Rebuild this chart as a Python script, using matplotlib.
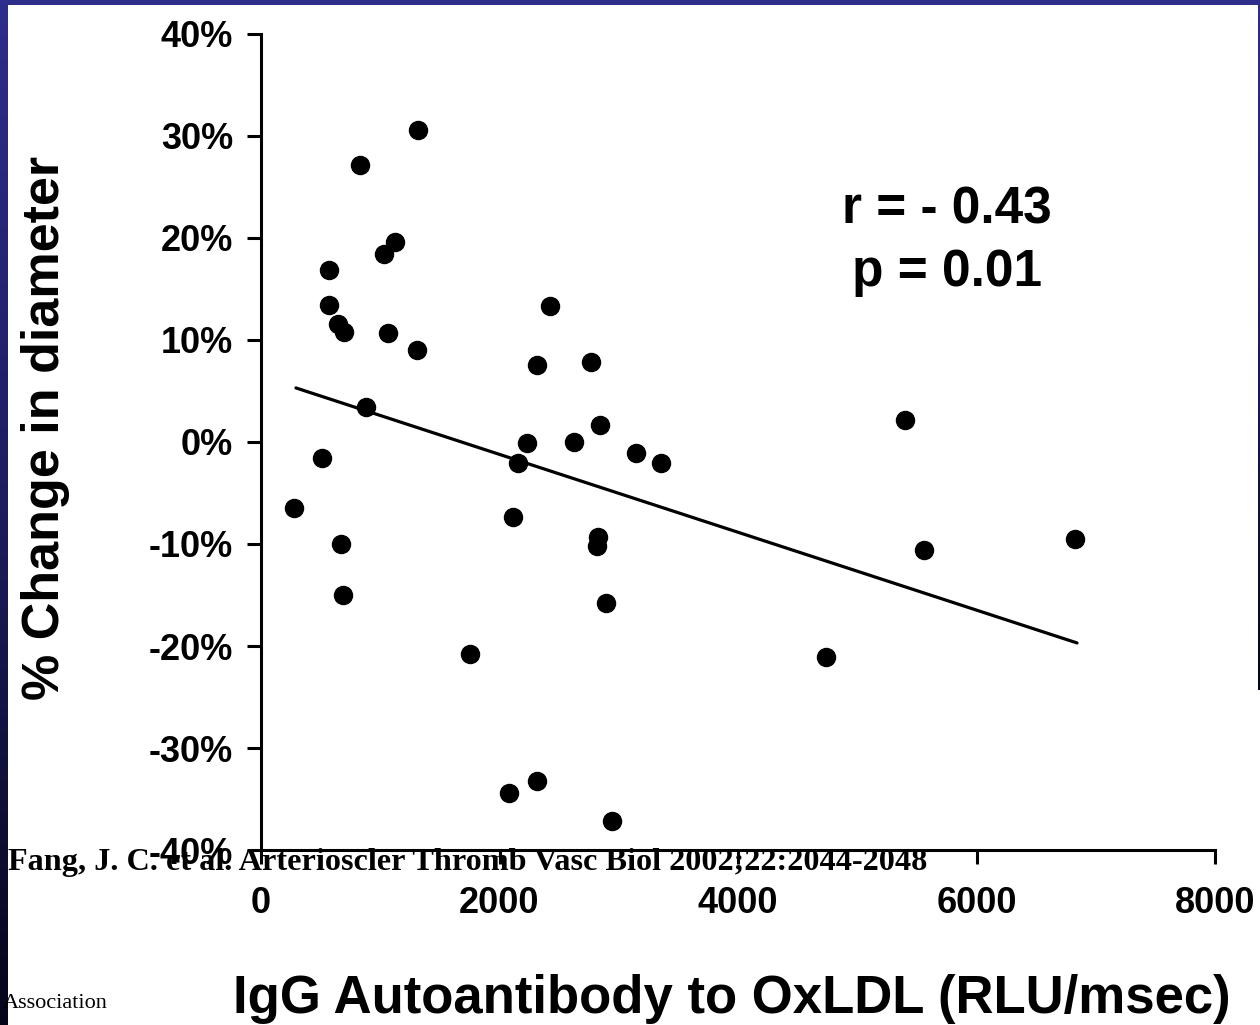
import numpy as np
import matplotlib
matplotlib.use("Agg")
import matplotlib.pyplot as plt
from matplotlib.colors import LinearSegmentedColormap

# IgG autoantibody titre (RLU/msec) vs % change in vessel diameter
antibody = [277, 512, 570, 570, 646, 696, 671, 688, 830, 880,
            1031, 1124, 1065, 1317, 1308, 1753, 2080, 2113, 2155, 2231,
            2315, 2315, 2423, 2625, 2767, 2826, 2818, 2843, 2893, 2943,
            3145, 3354, 4738, 5400, 5560, 6826]
diameter_change = [-6.5, -1.6, 16.9, 13.4, 11.6, 10.8, -10.0, -15.0, 27.2, 3.4,
                   18.4, 19.6, 10.7, 30.6, 9.0, -20.8, -34.4, -7.4, -2.1, -0.1,
                   7.5, -33.2, 13.3, 0.0, 7.8, -9.3, -10.2, 1.7, -15.8, -37.2,
                   -1.1, -2.1, -21.1, 2.2, -10.6, -9.5]

# regression line end points
fit_x = [293, 6843]
fit_y = [5.3, -19.7]

r_value = -0.43
p_value = 0.01

x_ticks = [0, 2000, 4000, 6000, 8000]
y_ticks = [-40, -30, -20, -10, 0, 10, 20, 30, 40]

W, H = 1260, 1025
fig = plt.figure(figsize=(W / 100, H / 100), dpi=100, facecolor="white")

# slide frame: gradient strip down the left, solid bar along the top
grad = LinearSegmentedColormap.from_list("frame", ["#2e2e8c", "#1c1c5e", "#05051a"])
left = fig.add_axes([0, 0, 8 / W, 1])
left.imshow(np.linspace(0, 1, 256)[:, None], aspect="auto", cmap=grad)
left.axis("off")
right = fig.add_axes([1 - 2 / W, 1 - 690 / H, 2 / W, 690 / H])
right.imshow(np.linspace(0, 1, 256)[:, None], aspect="auto", cmap=grad)
right.axis("off")
top = fig.add_axes([0, 1 - 5 / H, 1, 5 / H])
top.set_facecolor("#2e2e8c")
top.set_xticks([])
top.set_yticks([])
for s in top.spines.values():
    s.set_visible(False)

ax = fig.add_axes([261 / W, 1 - 850 / H, (1215 - 261) / W, (850 - 34) / H])
ax.set_facecolor("none")

ax.plot(antibody, diameter_change, "o", color="black", markersize=13, zorder=3)
ax.plot(fit_x, fit_y, color="black", linewidth=2.3, solid_capstyle="round")

ax.set_xlim(0, 8000)
ax.set_ylim(-40, 40)
ax.set_xticks(x_ticks)
ax.set_xticklabels([str(v) for v in x_ticks])
ax.set_yticks(y_ticks)
ax.set_yticklabels([f"{v}%" for v in y_ticks])

for side in ("top", "right"):
    ax.spines[side].set_visible(False)
for side in ("left", "bottom"):
    ax.spines[side].set_linewidth(2.2)
ax.tick_params(axis="both", direction="out", length=10, width=2.2,
               labelsize=26, colors="black")
ax.tick_params(axis="y", pad=10)
ax.tick_params(axis="x", pad=16)
for lab in ax.get_xticklabels() + ax.get_yticklabels():
    lab.set_fontfamily("Liberation Sans")
    lab.set_fontweight("bold")

ax.set_xlabel("IgG Autoantibody to OxLDL (RLU/msec)", fontsize=38,
              fontweight="bold", family="Liberation Sans")
ax.xaxis.set_label_coords(0.494, -0.152)
ax.set_ylabel("% Change in diameter", fontsize=37.5,
              fontweight="bold", family="Liberation Sans")
ax.yaxis.set_label_coords(-0.200, 0.517)

ax.text(0.719, 0.746, f"r = - {abs(r_value):.2f}\np = {p_value:.2f}",
        transform=ax.transAxes, ha="center", va="center", fontsize=37,
        fontweight="bold", family="Liberation Sans", linespacing=1.38)

# citation overlaid on the lower edge of the plot
fig.text(8 / W, 1 - 870 / H,
         "Fang, J. C. et al. Arterioscler Thromb Vasc Biol 2002;22:2044-2048",
         fontsize=23.2, fontweight="bold", family="Liberation Serif",
         ha="left", va="baseline", zorder=5)
fig.text(3 / W, 1 - 1008 / H, "Association", fontsize=16,
         family="Liberation Serif", ha="left", va="baseline")

fig.savefig("out.png", dpi=100, facecolor="white")
